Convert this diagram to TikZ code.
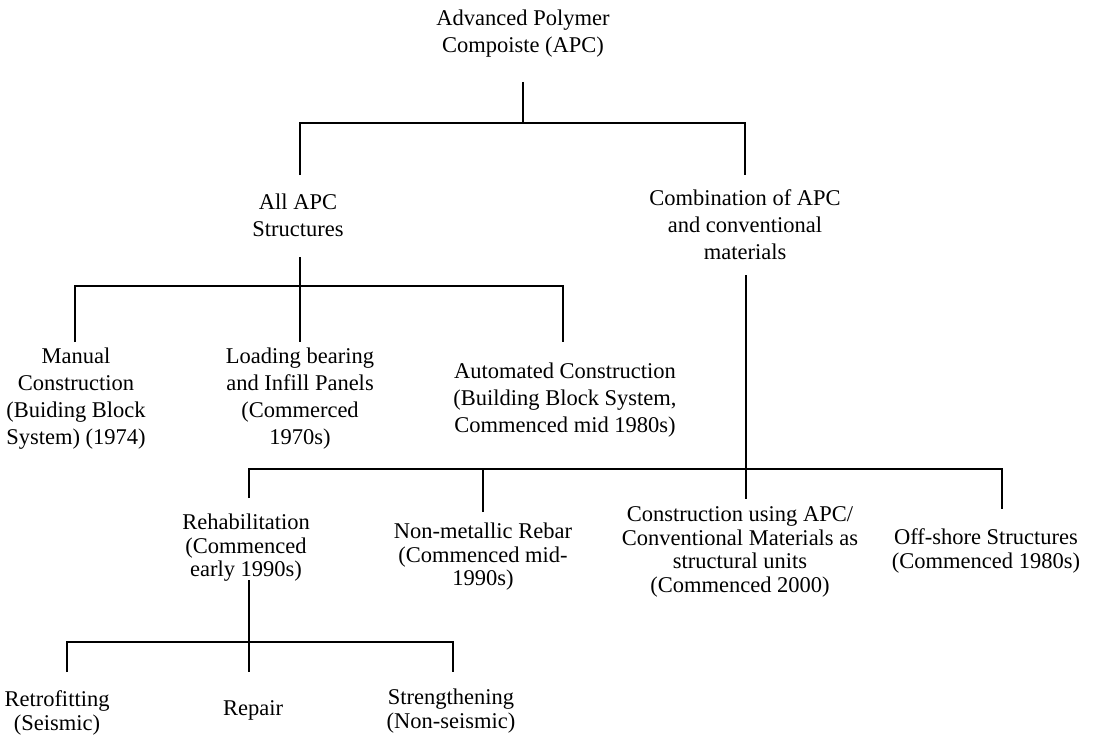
\documentclass[tikz,border=0pt]{standalone}
\usepackage{fontspec}
\setmainfont{Liberation Serif}
\begin{document}
\begin{tikzpicture}[x=1pt,y=-1pt,
  lbl/.style={align=center, inner sep=0pt, font=\fontsize{22.5}{27}\selectfont},
  lbls/.style={align=center, inner sep=0pt, font=\fontsize{22.5}{23.5}\selectfont},
  conn/.style={line width=1.3pt}]
\useasboundingbox (0,0) rectangle (1102,741);
% nodes
\node[lbl] (apc) at (523,33.5) {Advanced Polymer\\Compoiste (APC)};
\node[lbl] (all) at (298,215) {All APC\\Structures};
\node[lbl] (comb) at (745,225) {Combination of APC\\and conventional\\materials};
\node[lbl] (man) at (76,399) {Manual\\Construction\\(Buiding Block\\System) (1974)};
\node[lbl] (load) at (300,399) {Loading bearing\\and Infill Panels\\(Commerced\\1970s)};
\node[lbl] (auto) at (565,400) {Automated Construction\\(Building Block System,\\Commenced mid 1980s)};
\node[lbls] (reh) at (246,548) {Rehabilitation\\(Commenced\\early 1990s)};
\node[lbls] (nmr) at (483,557) {Non-metallic Rebar\\(Commenced mid-\\1990s)};
\node[lbls] (cons) at (740,552) {Construction using APC/\\Conventional Materials as\\structural units\\(Commenced 2000)};
\node[lbls] (off) at (986,551) {Off-shore Structures\\(Commenced 1980s)};
\node[lbls] (ret) at (57,713) {Retrofitting\\(Seismic)};
\node[lbls] (rep) at (253,710) {Repair};
\node[lbls] (str) at (451,711) {Strengthening\\(Non-seismic)};
% connector end points
\coordinate (apcO) at (523,82);  \coordinate (bus1) at (523,123);
\coordinate (allI) at (300,175); \coordinate (combI) at (745,175);
\coordinate (allO) at (300,257); \coordinate (bus2) at (300,286);
\coordinate (manI) at (75,342);  \coordinate (loadI) at (300,342); \coordinate (autoI) at (563,342);
\coordinate (combO) at (746,275); \coordinate (bus3) at (746,469);
\coordinate (rehI) at (249,498); \coordinate (nmrI) at (483,512);
\coordinate (consI) at (746,499); \coordinate (offI) at (1002,509);
\coordinate (rehO) at (249,580); \coordinate (bus4) at (249,642);
\coordinate (retI) at (67,672); \coordinate (repI) at (249,672); \coordinate (strI) at (453,672);
% connectors
\draw[conn] (apcO) -- (bus1);
\draw[conn] (allI) |- (bus1) -| (combI);
\draw[conn] (allO) -- (loadI);
\draw[conn] (manI) |- (bus2) -| (autoI);
\draw[conn] (combO) -- (consI);
\draw[conn] (rehI) |- (bus3) -| (offI);
\draw[conn] (nmrI) -- (nmrI |- bus3);
\draw[conn] (rehO) -- (repI);
\draw[conn] (retI) |- (bus4) -| (strI);
\end{tikzpicture}
\end{document}
